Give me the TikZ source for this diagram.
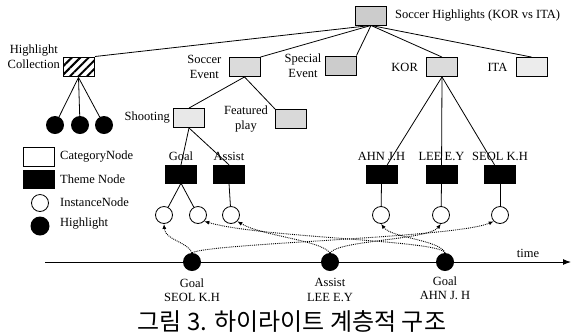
\documentclass[tikz,border=0pt]{standalone}
\usepackage{fontspec}
\setmainfont{Liberation Serif}
\newfontfamily\krfont{Noto Sans CJK KR}
\usepackage{tikz}
\usetikzlibrary{arrows.meta,positioning,patterns.meta}

\begin{document}
\begin{tikzpicture}[
  x=1pt,y=-1pt,
  font=\fontsize{12.5}{14.5}\selectfont,
  cbox/.style={rectangle,draw,line width=0.9pt,fill=gray!28,minimum width=31pt,minimum height=19pt,inner sep=0pt},
  tbox/.style={rectangle,draw,fill=black,minimum width=31pt,minimum height=18pt,inner sep=0pt},
  inode/.style={circle,draw,line width=0.8pt,fill=white,minimum size=17pt,inner sep=0pt},
  hnode/.style={circle,fill=black,minimum size=18pt,inner sep=0pt},
  lbl/.style={inner sep=1pt,align=center},
  link/.style={line width=0.8pt},
  evarrow/.style={-{Latex[length=5pt,width=4pt]},densely dotted,line width=0.9pt}
]
  \useasboundingbox (0,0) rectangle (572,333);

  % === Category Layer ===
  \node[cbox,fill=gray!40] (root) at (371,15.5) {};
  \node[lbl,right=7pt of root] (rootl) {Soccer Highlights (KOR vs ITA)};
  \node[cbox,fill=white,pattern={Lines[angle=45,distance=6pt,line width=2pt]}] (hc) at (78.5,67) {};
  \node[lbl,left=1pt of hc.north west] (hcl) {Highlight\\Collection};
  \node[cbox] (se) at (244.5,67) {};
  \node[lbl,left=6pt of se] (sel) {Soccer\\Event};
  \node[cbox,fill=gray!40] (spe) at (340.5,65.5) {};
  \node[lbl,left=2pt of spe] (spel) {Special\\Event};
  \node[cbox] (kor) at (442,67) {};
  \node[lbl,left=7pt of kor] (korl) {KOR};
  \node[cbox,fill=gray!15] (ita) at (531.5,67) {};
  \node[lbl,left=7pt of ita] (ital) {ITA};
  \node[cbox,fill=gray!18] (sh) at (189,118) {};
  \node[lbl,left=2pt of sh] (shl) {Shooting};
  \node[cbox,fill=gray!30] (fp) at (291,119) {};
  \node[lbl,left=6pt of fp] (fpl) {Featured\\play};

  % highlights of the collection
  \node[hnode] (hl1) at (55,125) {};
  \node[hnode] (hl2) at (80,125) {};
  \node[hnode] (hl3) at (104,125) {};

  % === Theme Layer ===
  \node[tbox] (t1) at (181,174) {};
  \node[tbox] (t2) at (229,174) {};
  \node[tbox] (t3) at (381.5,174) {};
  \node[tbox] (t4) at (441.5,174) {};
  \node[tbox] (t5) at (500,174) {};
  \node[lbl,above=3pt of t1] (t1l) {Goal};
  \node[lbl,above=3pt of t2] (t2l) {Assist};
  \node[lbl,above=3pt of t3] (t3l) {AHN J.H};
  \node[lbl,above=3pt of t4] (t4l) {LEE E.Y};
  \node[lbl,above=3pt of t5] (t5l) {SEOL K.H};

  % === Instance Layer ===
  \node[inode] (i1) at (164,215) {};
  \node[inode] (i2) at (198,215) {};
  \node[inode] (i3) at (231,215) {};
  \node[inode] (i4) at (381,215) {};
  \node[inode] (i5) at (441,215) {};
  \node[inode] (i6) at (500,215) {};

  % === Legend ===
  \node[cbox,fill=white] (lc) at (39,157) {};
  \node[tbox] (lt) at (39,179) {};
  \node[inode] (li) at (40,203) {};
  \node[hnode,minimum size=19pt] (lh) at (40,226) {};
  \node[lbl,anchor=west] at (59,157) {CategoryNode};
  \node[lbl,anchor=west] at (59,179) {Theme Node};
  \node[lbl,anchor=west] at (59,202) {InstanceNode};
  \node[lbl,anchor=west] at (59,224) {Highlight};

  % tree links
  \draw[link] (root.south) -- (hc.north east);
  \draw[link] (root.south) -- (se.north east);
  \draw[link] (root.south) -- (spe.north east);
  \draw[link] (root.south) -- (kor.north);
  \draw[link] (root.south) -- (ita.north);
  \draw[link] (hc.south) -- (hl1);
  \draw[link] (hc.south) -- (hl2);
  \draw[link] (hc.south) -- (hl3);
  \draw[link] (se.south) -- (sh.north);
  \draw[link] (se.south) -- (fp.north west);
  \draw[link] (sh.south) -- (t1.north);
  \draw[link] (sh.south) -- (t2.north);
  \draw[link] (kor.south) -- (t3);
  \draw[link] (kor.south) -- (t4);
  \draw[link] (kor.south) -- (t5);
  \draw[link] (t1.south) -- (i1);
  \draw[link] (t1.south) -- (i2);
  \draw[link] (t2.south) -- (i3);
  \draw[link] (t3.south) -- (i4);
  \draw[link] (t4.south) -- (i5);
  \draw[link] (t5.south) -- (i6);

  % === Time line ===
  \coordinate (ts) at (45,262);
  \coordinate (te) at (571,262);
  \draw[line width=1pt,-{Latex[length=8pt,width=6pt]}] (ts) -- (te);
  \node[lbl] (tl) at (528,253) {time};
  \node[hnode] (e1) at (192,262) {};
  \node[hnode] (e2) at (330,262) {};
  \node[hnode] (e3) at (445,262) {};
  \node[lbl,below=6pt of e1] (e1l) {Goal\\SEOL K.H};
  \node[lbl,below=6pt of e2] (e2l) {Assist\\LEE E.Y};
  \node[lbl,below=4pt of e3] (e3l) {Goal\\AHN J. H};

  % highlight -> instance
  \draw[evarrow] (e1.north) .. controls (188,242) and (165,240) .. (i1.south);
  \draw[evarrow] (e1.north) .. controls (210,243) and (455,238) .. (i6.south west);
  \draw[evarrow] (e2.north) .. controls (320,240) and (262,236) .. (i3.south east);
  \draw[evarrow] (e2.north) .. controls (340,240) and (428,240) .. (i5.south);
  \draw[evarrow] (e3.north) .. controls (440,240) and (262,238) .. (i2.south east);
  \draw[evarrow] (e3.north) .. controls (440,240) and (392,238) .. (i4.south);

  \node[font=\krfont\fontsize{24}{26}\selectfont] (cap) at (292,321) {그림 3. 하이라이트 계층적 구조};
\end{tikzpicture}
\end{document}
